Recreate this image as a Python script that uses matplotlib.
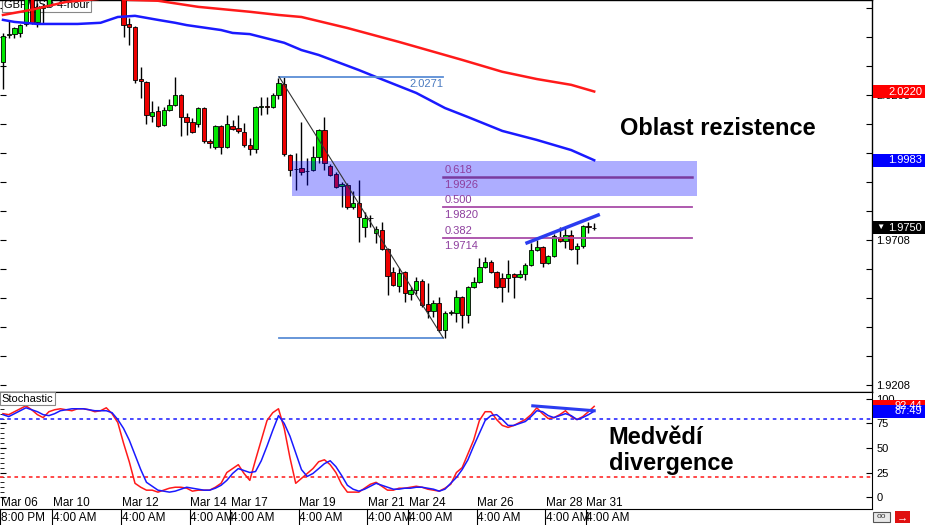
import numpy as np
import matplotlib.pyplot as plt
from matplotlib.patches import Rectangle
from matplotlib.transforms import blended_transform_factory

plt.rcParams['font.family'] = ['Liberation Sans', 'DejaVu Sans']

# --- 4h candles GBP/USD ---
opens = [2.0322, 2.0415, 2.0419, 2.0422, 2.0453, 2.0564, 2.0460, 2.0508, 2.0519, 2.0550,
         2.0578, 2.0590, 2.0608, 2.0596, 2.0618, 2.0630, 2.0622, 2.0641, 2.0648, 2.0632,
         2.0645, 2.0600, 2.0453, 2.0443, 2.0263, 2.0253, 2.0136, 2.0153, 2.0105, 2.0156,
         2.0174, 2.0208, 2.0132, 2.0115, 2.0108, 2.0163, 2.0050, 2.0029, 2.0101, 2.0029,
         2.0101, 2.0094, 2.0081, 2.0036, 2.0022, 2.0167, 2.0170, 2.0167, 2.0208, 2.0246,
         2.0001, 1.9953, 1.9956, 1.9946, 1.9950, 1.9994, 2.0088, 1.9963, 1.9936, 1.9894,
         1.9898, 1.9822, 1.9836, 1.9753, 1.9784, 1.9732, 1.9743, 1.9677, 1.9598, 1.9549,
         1.9598, 1.9522, 1.9536, 1.9567, 1.9487, 1.9463, 1.9491, 1.9398, 1.9456, 1.9456,
         1.9511, 1.9449, 1.9546, 1.9563, 1.9615, 1.9632, 1.9598, 1.9577, 1.9577, 1.9591,
         1.9580, 1.9591, 1.9622, 1.9673, 1.9684, 1.9629, 1.9653, 1.9718, 1.9704, 1.9725,
         1.9677, 1.9687, 1.9756, 1.9749]
highs = [2.0422, 2.0467, 2.0443, 2.0453, 2.0590, 2.0580, 2.0526, 2.0522, 2.0565, 2.0585,
         2.0602, 2.0615, 2.0620, 2.0625, 2.0640, 2.0645, 2.0650, 2.0660, 2.0655, 2.0650,
         2.0652, 2.0610, 2.0474, 2.0446, 2.0304, 2.0256, 2.0187, 2.0170, 2.0167, 2.0194,
         2.0270, 2.0212, 2.0146, 2.0129, 2.0167, 2.0167, 2.0056, 2.0105, 2.0105, 2.0139,
         2.0122, 2.0139, 2.0112, 2.0060, 2.0170, 2.0201, 2.0201, 2.0215, 2.0267, 2.0271,
         2.0005, 2.0008, 2.0115, 1.9991, 2.0032, 2.0091, 2.0132, 1.9970, 1.9943, 1.9908,
         1.9905, 1.9877, 1.9915, 1.9805, 1.9794, 1.9756, 1.9770, 1.9681, 1.9615, 1.9611,
         1.9601, 1.9546, 1.9580, 1.9574, 1.9560, 1.9501, 1.9511, 1.9463, 1.9467, 1.9536,
         1.9515, 1.9549, 1.9580, 1.9646, 1.9649, 1.9639, 1.9601, 1.9594, 1.9639, 1.9594,
         1.9604, 1.9629, 1.9698, 1.9708, 1.9687, 1.9656, 1.9729, 1.9753, 1.9749, 1.9742,
         1.9698, 1.9760, 1.9770, 1.9767]
lows = [2.0229, 2.0405, 2.0405, 2.0408, 2.0446, 2.0453, 2.0443, 2.0457, 2.0515, 2.0542,
        2.0560, 2.0575, 2.0585, 2.0588, 2.0605, 2.0610, 2.0615, 2.0625, 2.0620, 2.0600,
        2.0590, 2.0408, 2.0381, 2.0249, 2.0198, 2.0108, 2.0115, 2.0098, 2.0101, 2.0153,
        2.0170, 2.0067, 2.0070, 2.0077, 2.0098, 2.0043, 2.0025, 2.0022, 2.0004, 2.0025,
        2.0087, 2.0077, 2.0029, 2.0001, 2.0008, 2.0139, 2.0143, 2.0163, 2.0194, 1.9998,
        1.9929, 1.9881, 1.9932, 1.9898, 1.9946, 1.9974, 1.9950, 1.9929, 1.9888, 1.9822,
        1.9815, 1.9815, 1.9701, 1.9718, 1.9753, 1.9698, 1.9674, 1.9518, 1.9549, 1.9529,
        1.9494, 1.9501, 1.9522, 1.9477, 1.9439, 1.9442, 1.9391, 1.9370, 1.9449, 1.9425,
        1.9404, 1.9422, 1.9542, 1.9560, 1.9611, 1.9594, 1.9542, 1.9494, 1.9529, 1.9508,
        1.9577, 1.9570, 1.9618, 1.9670, 1.9615, 1.9625, 1.9649, 1.9701, 1.9680, 1.9673,
        1.9625, 1.9680, 1.9732, 1.9742]
closes = [2.0412, 2.0417, 2.0439, 2.0450, 2.0571, 2.0457, 2.0511, 2.0515, 2.0550, 2.0578,
          2.0590, 2.0608, 2.0596, 2.0618, 2.0630, 2.0622, 2.0641, 2.0648, 2.0632, 2.0645,
          2.0600, 2.0450, 2.0443, 2.0260, 2.0256, 2.0139, 2.0149, 2.0101, 2.0156, 2.0174,
          2.0208, 2.0132, 2.0115, 2.0081, 2.0163, 2.0050, 2.0043, 2.0101, 2.0029, 2.0108,
          2.0091, 2.0084, 2.0036, 2.0022, 2.0167, 2.0170, 2.0167, 2.0208, 2.0249, 2.0005,
          1.9950, 1.9953, 1.9943, 1.9947, 1.9994, 2.0088, 1.9974, 1.9932, 1.9891, 1.9901,
          1.9822, 1.9836, 1.9787, 1.9784, 1.9782, 1.9746, 1.9677, 1.9584, 1.9553, 1.9594,
          1.9525, 1.9536, 1.9567, 1.9484, 1.9463, 1.9491, 1.9398, 1.9456, 1.9458, 1.9511,
          1.9449, 1.9546, 1.9563, 1.9615, 1.9632, 1.9598, 1.9546, 1.9546, 1.9591, 1.9580,
          1.9591, 1.9622, 1.9673, 1.9684, 1.9629, 1.9653, 1.9722, 1.9704, 1.9725, 1.9677,
          1.9687, 1.9756, 1.9753, 1.9750]

# moving averages, sampled at some candles
ma_red_idx = [0, 5, 11, 17, 20, 22, 27, 34, 43, 48, 52, 60, 69, 80, 87, 93, 99, 103]
ma_red = [2.0484, 2.0502, 2.0529, 2.0540, 2.0541, 2.0536, 2.0533, 2.0512, 2.0495, 2.0484,
          2.0477, 2.0439, 2.0391, 2.0329, 2.0288, 2.0263, 2.0243, 2.0220]
ma_blue_idx = [0, 2, 6, 13, 17, 20, 23, 27, 30, 32, 38, 40, 43, 49, 52, 55, 62, 65, 72,
               77, 81, 87, 93, 99, 103]
ma_blue = [2.0467, 2.0460, 2.0453, 2.0453, 2.0457, 2.0477, 2.0481, 2.0467, 2.0457, 2.0449,
           2.0432, 2.0422, 2.0418, 2.0388, 2.0363, 2.0346, 2.0294, 2.0270, 2.0215, 2.0163,
           2.0132, 2.0084, 2.0053, 2.0018, 1.9983]

# stochastic %K (red) and %D (blue)
stoch_k = [85, 84, 87, 90, 93, 89, 84, 81, 87, 89, 90, 89, 88, 90, 90, 89, 87, 88, 91, 85,
           76, 55, 36, 14, 10, 7, 7, 5, 7, 9, 10, 10, 9, 6, 7, 7, 7, 10, 14, 25,
           29, 33, 24, 17, 38, 58, 78, 86, 90, 70, 40, 14, 19, 24, 29, 36, 38, 33, 25, 13,
           5, 5, 5, 9, 13, 15, 11, 7, 7, 9, 9, 10, 11, 10, 8, 7, 6, 9, 13, 25,
           30, 44, 58, 78, 87, 87, 79, 73, 71, 73, 76, 79, 84, 91, 85, 80, 81, 84, 88, 82,
           79, 82, 87, 92.44]
stoch_d = [84, 82, 85, 88, 91, 89, 87, 84, 83, 85, 88, 89, 90, 90, 90, 89, 88, 88, 88, 86,
           79, 70, 58, 43, 28, 15, 11, 7, 6, 5, 6, 8, 10, 9, 8, 7, 7, 9, 12, 17,
           24, 29, 27, 25, 26, 37, 52, 68, 83, 75, 62, 45, 28, 21, 24, 29, 34, 37, 31, 22,
           12, 8, 6, 8, 11, 14, 12, 10, 8, 8, 9, 9, 10, 10, 9, 8, 6, 8, 14, 20,
           28, 38, 52, 65, 78, 83, 84, 79, 73, 73, 75, 77, 82, 88, 87, 83, 81, 83, 85, 83,
           79, 81, 84, 87.49]

# x axis labels (candle index of each label)
date_idx = [0, 9, 21, 33, 40, 52, 64, 71, 83, 95, 102]
date_top = ['Mar 06', 'Mar 10', 'Mar 12', 'Mar 14', 'Mar 17', 'Mar 19', 'Mar 21', 'Mar 24',
            'Mar 26', 'Mar 28', 'Mar 31']
date_bot = ['8:00 PM'] + ['4:00 AM'] * 10

# fibonacci retracement and swing points
swing_high, swing_low = 2.0271, 1.9370
swing_x = [48.1, 76.7]
fib_levels = ['0.618', '0.500', '0.382']
fib_prices = [1.9926, 1.9820, 1.9714]
zone_x = [50.3, 120.9]
zone_price = [1.9860, 1.9980]
trend_x = [91.3, 103.7]
trend_price = [1.9698, 1.9794]
stoch_trend_x = [92.3, 103.0]
stoch_trend_val = [93, 88]

W, H = 925, 525
fig = plt.figure(figsize=(W / 100, H / 100), dpi=100)
ax = fig.add_axes([0, 133 / H, 872 / W, 392 / H])
ax2 = fig.add_axes([0, 16 / H, 872 / W, 117 / H])

x = np.arange(len(opens))
o = np.array(opens); c = np.array(closes)
up = c >= o
body_col = np.where(up, '#00e800', '#ee0000')
bottoms = np.minimum(o, c)
heights = np.maximum(np.abs(c - o), 0.00012)

ax.vlines(x, lows, highs, color='black', lw=1, zorder=3)
ax.bar(x, heights, bottom=bottoms, width=0.76, color=body_col, edgecolor='black',
       linewidth=0.6, zorder=4)

ax.plot(ma_red_idx, ma_red, color='#ff1a1a', lw=1.8, zorder=5)
ax.plot(ma_blue_idx, ma_blue, color='#1a1aff', lw=1.8, zorder=5)

# resistance zone
ax.add_patch(Rectangle((zone_x[0], zone_price[0]), zone_x[1] - zone_x[0],
                       zone_price[1] - zone_price[0], facecolor='#0000ff', alpha=0.32,
                       edgecolor='none', zorder=6))

# swing lines
ax.plot(swing_x, [swing_high, swing_high], color='#5b8ed6', lw=1.3, zorder=7)
ax.plot(swing_x, [swing_low, swing_low], color='#5b8ed6', lw=1.3, zorder=7)
ax.plot(swing_x, [swing_high, swing_low], color='#333333', lw=0.8, zorder=7)
ax.annotate('2.0271', (swing_x[1], swing_high), xytext=(0, -1.5), textcoords='offset points',
            ha='right', va='top', fontsize=8, color='#4a7ac0', zorder=8)

fib_end = 120.0
for i, (lab, pr) in enumerate(zip(fib_levels, fib_prices)):
    col = '#7a3b9e' if i == 0 else '#a84ca8'
    ax.plot([swing_x[1], fib_end], [pr, pr], color=col, lw=1.8 if i == 0 else 1.3, zorder=7)
    ax.annotate(lab, (swing_x[1] + 0.2, pr), xytext=(0, 1.5), textcoords='offset points',
                ha='left', va='bottom', fontsize=8, color='#8e3f9e', zorder=8)
    ax.annotate('%.4f' % pr, (swing_x[1] + 0.2, pr), xytext=(0, -2), textcoords='offset points',
                ha='left', va='top', fontsize=8, color='#8e3f9e', zorder=8)

ax.plot(trend_x, trend_price, color='#2b3cf0', lw=2.5, zorder=8)

ax.text(107.5, 2.0536 - 129 * 0.000345, 'Oblast rezistence', fontsize=17, fontweight='bold',
        va='center', ha='left', zorder=9)

# symbol label
ax.text(0.2, 2.0534, 'GBP/USD 4-hour', fontsize=8, va='top', ha='left', zorder=2,
        bbox=dict(boxstyle='square,pad=0.15', facecolor='white', edgecolor='#888888', lw=0.8))

ax.set_xlim(-0.52, 151.4)
ax.set_ylim(1.91836, 2.05356)
ax.set_xticks([])
yt = np.round(1.9208 + 0.01 * np.arange(14), 4)
ax.set_yticks(yt)
ax.set_yticklabels(['%.4f' % v if k % 5 == 0 else '' for k, v in enumerate(yt)])
ax.yaxis.tick_right()
ax.tick_params(axis='y', which='both', direction='in', length=4, width=0.8, labelsize=8,
               pad=3, left=True, right=True)
ax.spines['left'].set_visible(False)
for s in ['top', 'right', 'bottom']:
    ax.spines[s].set_linewidth(1)

# stochastic panel
ax2.plot(x, stoch_k, color='#ff1a1a', lw=1.1, zorder=3)
ax2.plot(x, stoch_d, color='#1a1aff', lw=1.1, zorder=3)
ax2.axhline(80, color='#3a3aff', ls=(0, (2, 2)), lw=1.3, zorder=2)
ax2.axhline(20, color='#ff3a3a', ls=(0, (2, 2)), lw=1.3, zorder=2)
ax2.plot(stoch_trend_x, stoch_trend_val, color='#2b3cf0', lw=2.2, zorder=4)
ax2.text(-0.3, 105.5, 'Stochastic', fontsize=8, va='top', ha='left', zorder=5,
         bbox=dict(boxstyle='square,pad=0.15', facecolor='white', edgecolor='#888888', lw=0.8))
ax2.text(105.5, 61, 'Medvědí', fontsize=17, fontweight='bold', va='center', ha='left')
ax2.text(105.5, 34.5, 'divergence', fontsize=17, fontweight='bold', va='center', ha='left')

ax2.set_xlim(-0.52, 151.4)
ax2.set_ylim(-12.2, 107.1)
ax2.set_xticks([])
ax2.yaxis.tick_right()
ax2.set_yticks([0, 25, 50, 75, 100])
ax2.set_yticks(np.arange(0, 101, 5), minor=True)
ax2.tick_params(axis='y', which='major', direction='in', length=4, labelsize=8, pad=3,
                left=True, right=True)
ax2.tick_params(axis='y', which='minor', direction='in', length=3, left=True, right=False)
ax2.spines['left'].set_visible(False)

# date labels
tb = blended_transform_factory(ax2.transData, ax2.transAxes)
for i, t1, t2 in zip(date_idx, date_top, date_bot):
    ax2.text(i - 0.35, -6, t1, fontsize=8.5, va='center', ha='left')
    ax2.text(i - 0.35, -0.08, t2, fontsize=8.5, va='center', ha='left', transform=tb, clip_on=False)
    ax2.plot([i - 0.5, i - 0.5], [0, -0.14], color='black', lw=0.8, transform=tb, clip_on=False)


def right_tag(axis, value, label, bg, fg='white'):
    yd = axis.transData.transform((0, value))[1] / H
    fig.patches.append(Rectangle((873 / W, yd - 6.5 / H), 52 / W, 13 / H, facecolor=bg,
                                 edgecolor='none', transform=fig.transFigure, figure=fig))
    fig.text(922 / W, yd, label, color=fg, fontsize=8, ha='right', va='center')


right_tag(ax, 2.0220, '2.0220', '#ff0000')
right_tag(ax, 1.9983, '1.9983', '#0000ff')
right_tag(ax, 1.9750, '1.9750', '#000000')
fig.text(876 / W, ax.transData.transform((0, 1.9750))[1] / H, '▼', color='white', fontsize=6,
         ha='left', va='center')
right_tag(ax2, 92.44, '92.44', '#ff0000')
right_tag(ax2, 87.49, '87.49', '#0000ff')

# small icons bottom right
fig.patches.append(Rectangle((873 / W, 3 / H), 17 / W, 10 / H, facecolor='#e8e8e8',
                             edgecolor='#555555', lw=0.8, transform=fig.transFigure, figure=fig))
fig.text(881.5 / W, 8 / H, 'oo', fontsize=6, ha='center', va='center', color='#333333')
fig.patches.append(Rectangle((895 / W, 2 / H), 15 / W, 12 / H, facecolor='#e01010',
                             edgecolor='none', transform=fig.transFigure, figure=fig))
fig.text(902.5 / W, 8 / H, '→', fontsize=8, ha='center', va='center', color='white',
         fontweight='bold')

fig.savefig('out.png', dpi=100)
